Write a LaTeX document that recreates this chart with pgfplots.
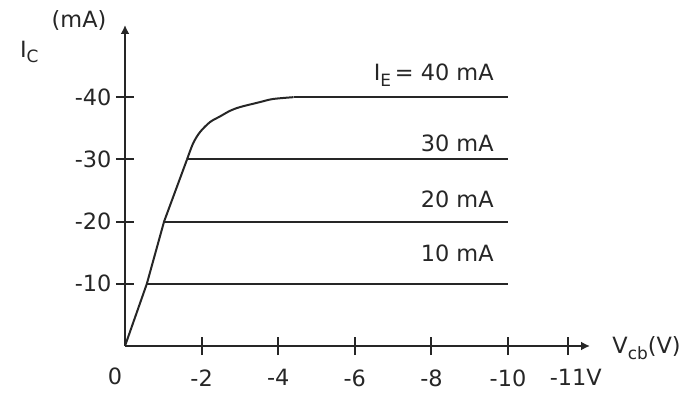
\documentclass[border=0pt]{standalone}
\usepackage{pgfplots}
\pgfplotsset{compat=1.18}
\usepackage{fontspec}
\setmainfont{DejaVu Sans}
\usetikzlibrary{arrows.meta}
\definecolor{ink}{HTML}{262626}
\newcommand{\sub}[1]{\raisebox{-0.45ex}{\fontsize{17}{20}\selectfont #1}}
\begin{document}
\begin{tikzpicture}
\begin{axis}[
  at={(125bp,50bp)}, anchor=south west,
  scale only axis, width=465bp, height=321bp,
  xmin=0, xmax=12.14, ymin=0, ymax=51.6,
  axis lines=left, clip=false,
  axis line style={line width=2bp, ink, -{Latex[length=9bp,width=9bp]}},
  xtick={2,4,6,8,10,11.57}, xticklabels={-2,-4,-6,-8,-10,\phantom{V}-11V},
  ytick={10,20,30,40}, yticklabels={-10,-20,-30,-40},
  tick align=center, major tick length=18bp,
  tick style={line width=2bp, ink},
  tick label style={font=\fontsize{22.5}{26}\selectfont, text=ink},
  x tick label style={anchor=north, yshift=-11bp},
  y tick label style={anchor=east, xshift=-1bp},
]
\addplot[line width=2bp, ink] coordinates {(0,0)(0.57,10)(1.02,20)(1.62,30)};
\addplot[line width=2bp, ink, smooth] coordinates {(1.62,30)(1.78,32.6)(1.96,34.4)(2.22,36.0)(2.48,36.9)(2.74,37.8)(3.00,38.4)(3.52,39.2)(3.86,39.7)(4.4,40)};
\addplot[line width=2bp, ink] coordinates {(4.4,40)(10,40)};
\addplot[line width=2bp, ink] coordinates {(1.62,30)(10,30)};
\addplot[line width=2bp, ink] coordinates {(1.02,20)(10,20)};
\addplot[line width=2bp, ink] coordinates {(0.57,10)(10,10)};
\begin{scope}[every node/.style={font=\fontsize{22.5}{26}\selectfont, text=ink, inner sep=0pt}]
\node[anchor=east] at (axis cs:9.63,43.5) {I\sub{E}\,= 40 mA};
\node[anchor=east] at (axis cs:9.63,32.6) {30 mA};
\node[anchor=east] at (axis cs:9.63,23.5) {20 mA};
\node[anchor=east] at (axis cs:9.63,14.9) {10 mA};
\node at (axis cs:-2.5,47.3) {I\sub{C}};
\node at (axis cs:-1.2,52.4) {(mA)};
\node[anchor=west] at (axis cs:12.72,-0.3) {V\sub{cb}(V)};
\node at (axis cs:0,0) [xshift=-10bp, yshift=-30bp] {0};
\end{scope}
\end{axis}
\pgfresetboundingbox
\path (0,0) rectangle (691bp,396bp);
\end{tikzpicture}
\end{document}
